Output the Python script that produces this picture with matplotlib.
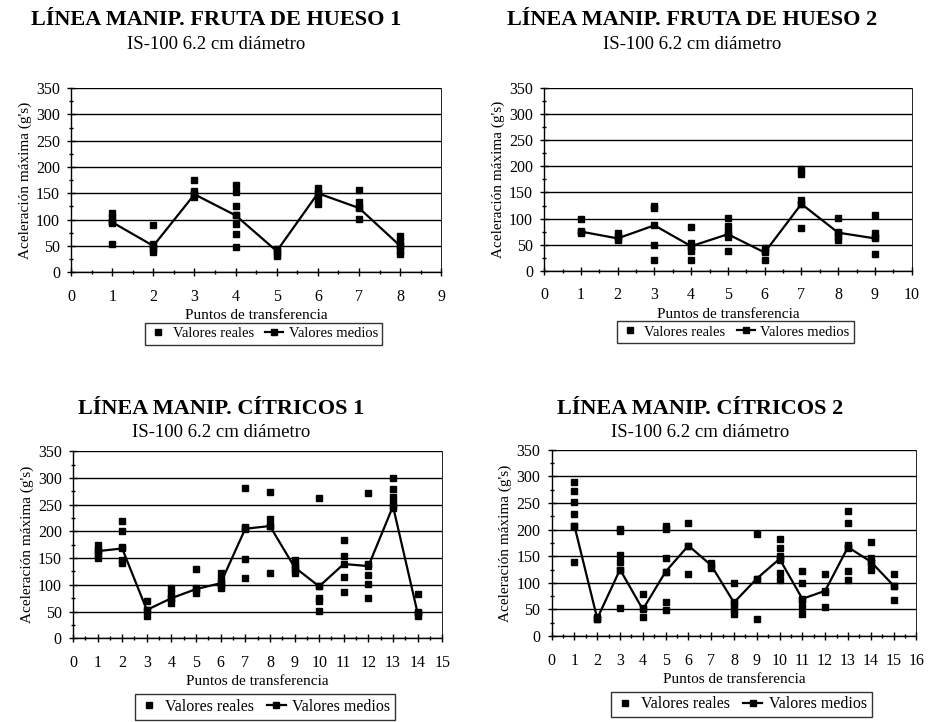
import matplotlib
matplotlib.use("Agg")
import matplotlib.pyplot as plt
from matplotlib.ticker import MultipleLocator
from matplotlib.lines import Line2D

plt.rcParams["font.family"] = ["Liberation Serif", "DejaVu Serif"]

########################
# Data #
########################

titles = [
    "LÍNEA MANIP. FRUTA DE HUESO 1",
    "LÍNEA MANIP. FRUTA DE HUESO 2",
    "LÍNEA MANIP. CÍTRICOS 1",
    "LÍNEA MANIP. CÍTRICOS 2",
]
subtitle = "IS-100 6.2 cm diámetro"
xlabel = "Puntos de transferencia"
ylabel = "Aceleración máxima (g's)"
xmax = [9, 10, 15, 16]

# Fruta de hueso 1
reales_1 = [
    [112, 105, 97, 93, 54],
    [89, 54, 45, 38],
    [176, 155, 148, 142],
    [166, 152, 125, 108, 91, 73, 47],
    [44, 35, 30],
    [161, 150, 140, 130],
    [157, 133, 123, 101],
    [68, 60, 50, 40, 35],
]
medios_1 = [95, 50, 148, 108, 40, 150, 122, 50]

# Fruta de hueso 2
reales_2 = [
    [100, 77, 73],
    [73, 66, 58],
    [125, 120, 50, 20],
    [83, 53, 45, 37, 20],
    [102, 85, 75, 65, 37],
    [43, 38, 20],
    [195, 185, 135, 127, 82],
    [101, 75, 65, 58],
    [107, 73, 64, 32],
]
medios_2 = [75, 62, 87, 47, 70, 35, 128, 73, 62]

# Cítricos 1
reales_3 = [
    [175, 165, 155, 150],
    [220, 200, 171, 147, 140],
    [69, 53, 41],
    [94, 85, 75, 66],
    [129, 94, 85],
    [122, 110, 100, 94],
    [281, 209, 206, 148, 112],
    [274, 223, 210, 123],
    [147, 137, 128, 122],
    [262, 98, 75, 69, 51],
    [184, 154, 114, 87],
    [272, 139, 119, 101, 75],
    [300, 280, 265, 253, 244],
    [83, 50, 41],
]
medios_3 = [163, 168, 53, 75, 92, 103, 205, 210, 133, 97, 139, 135, 247, 47]

# Cítricos 2
reales_4 = [
    [289, 272, 252, 230, 207, 140],
    [35, 33],
    [202, 197, 153, 140, 125, 52],
    [79, 52, 36],
    [206, 201, 146, 121, 64, 49],
    [213, 169, 117],
    [137, 128],
    [99, 64, 50, 42],
    [191, 107, 33],
    [183, 165, 150, 143, 118, 105],
    [123, 99, 68, 55, 42],
    [117, 83, 55],
    [235, 213, 172, 165, 123, 106],
    [176, 147, 137, 125],
    [116, 95, 68],
]
medios_4 = [207, 33, 125, 50, 121, 170, 133, 63, 108, 145, 70, 85, 167, 140, 95]

reales = [reales_1, reales_2, reales_3, reales_4]
medios = [medios_1, medios_2, medios_3, medios_4]

#########
# Plots #
#########

fig = plt.figure(figsize=(9.35, 7.22), dpi=100)

# [left, bottom, width, height] in figure fractions
boxes = [
    [0.076, 0.623, 0.396, 0.255],
    [0.582, 0.625, 0.393, 0.253],
    [0.078, 0.116, 0.395, 0.259],
    [0.590, 0.119, 0.390, 0.258],
]
# title centre x, title y, subtitle y
title_pos = [(0.231, 0.972, 0.939), (0.740, 0.972, 0.939),
             (0.237, 0.433, 0.401), (0.749, 0.433, 0.401)]
legend_y = [-0.235, -0.235, -0.255, -0.255]
legend_fs = [10.5, 10.5, 11.5, 11.5]

for i in range(4):
    ax = fig.add_axes(boxes[i])
    pts = range(1, len(medios[i]) + 1)
    # individual measurements
    xs, ys = [], []
    for p, vals in zip(pts, reales[i]):
        xs += [p] * len(vals)
        ys += vals
    ax.plot(xs, ys, ls="none", marker="s", ms=4.5, color="black", zorder=3)
    # mean line
    ax.plot(pts, medios[i], color="black", lw=1.6, marker="s", ms=4.5, zorder=4)

    ax.set_xlim(0, xmax[i])
    ax.set_ylim(0, 350)
    ax.xaxis.set_major_locator(MultipleLocator(1))
    ax.xaxis.set_minor_locator(MultipleLocator(0.5))
    ax.yaxis.set_major_locator(MultipleLocator(50))
    ax.yaxis.set_minor_locator(MultipleLocator(25))
    ax.tick_params(which="major", direction="inout", length=6, width=1, labelsize=11.5)
    ax.tick_params(axis="x", which="major", pad=9)
    ax.tick_params(axis="y", which="major", pad=5)
    ax.tick_params(which="minor", direction="inout", length=3, width=1)
    ax.grid(axis="y", which="major", color="black", lw=1)
    for s in ax.spines.values():
        s.set_linewidth(1)
    ax.spines["top"].set_visible(False)
    ax.spines["right"].set_linewidth(0.6)
    ax.set_xlabel(xlabel, fontsize=11, labelpad=3)
    ax.set_ylabel(ylabel, fontsize=11, labelpad=3)

    cx, ty, sy = title_pos[i]
    fig.text(cx, ty, titles[i], ha="center", va="center",
             fontsize=16, fontweight="bold")
    fig.text(cx, sy, subtitle, ha="center", va="center", fontsize=13.5)

    handles = [
        Line2D([], [], ls="none", marker="s", ms=4.5, color="black"),
        Line2D([], [], color="black", lw=1.6, marker="s", ms=4.5),
    ]
    leg = ax.legend(handles, ["Valores reales", "Valores medios"], ncol=2,
                    loc="upper center", bbox_to_anchor=(0.52, legend_y[i]),
                    frameon=True, fancybox=False, edgecolor="black",
                    fontsize=legend_fs[i], handlelength=1.2, handletextpad=0.4,
                    columnspacing=0.8, borderpad=0.3)
    leg.get_frame().set_linewidth(1)

fig.savefig("out.png", dpi=100)
